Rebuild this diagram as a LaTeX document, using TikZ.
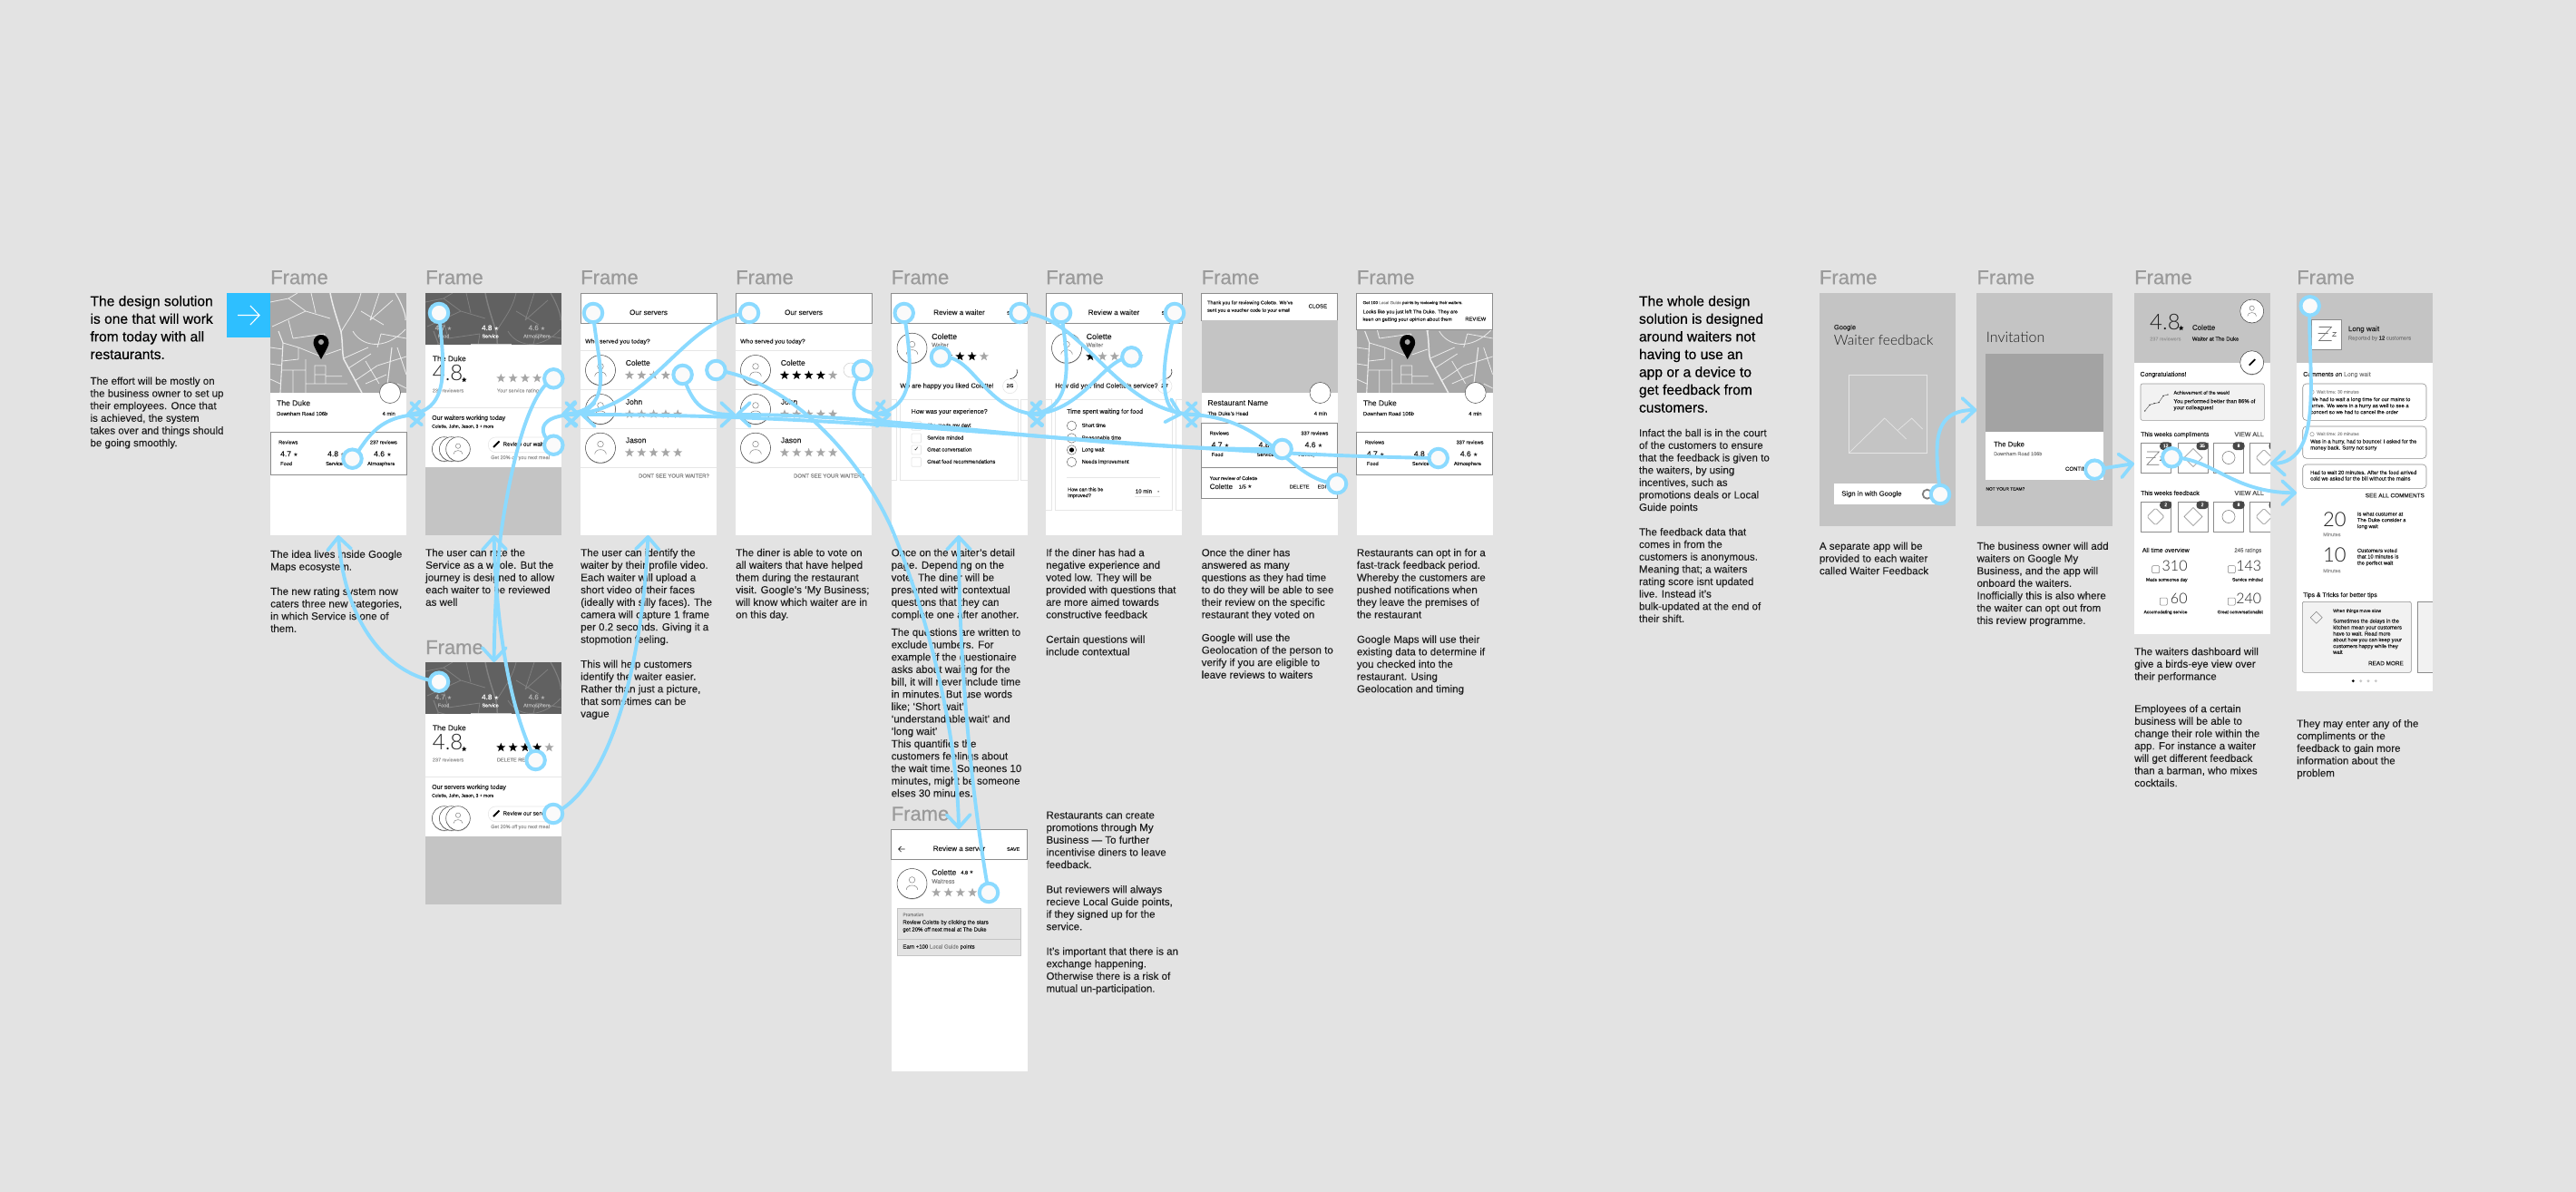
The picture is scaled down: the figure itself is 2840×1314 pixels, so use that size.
\documentclass[tikz,border=0pt]{standalone}
\usepackage{fontspec}
\setmainfont{Liberation Sans}[FakeBold=0.12]
\newfontfamily\djv{DejaVu Sans}
\newfontfamily\lite{Lato Light}
\newfontfamily\hvy[FakeBold=0.4]{Liberation Sans}
\usetikzlibrary{arrows.meta,shapes.geometric}
\definecolor{bgc}{HTML}{E3E3E3}
\definecolor{conn}{HTML}{8BDAFF}
\definecolor{boxb}{HTML}{2EBFFF}
\definecolor{ph}{HTML}{C4C4C4}
\definecolor{gt}{HTML}{9A9A9A}
\definecolor{strk}{HTML}{8C8C8C}
\definecolor{sep}{HTML}{E6E6E6}
\definecolor{ink}{HTML}{1E1E1E}
\pgfdeclarelayer{bg}\pgfdeclarelayer{top}\pgfsetlayers{bg,main,top}
\newcounter{nn}
\newcommand{\tbox}[6]{\stepcounter{nn}\node[inner sep=0,anchor=#5,text=#4,text height={#3*0.72pt},text depth={#3*0.2pt},font=\fontsize{#3}{#3}\selectfont] (n\thenn) at (#1,#2) {#6};}
\newcommand{\tw}[4]{\tbox{#1}{#2}{#3}{ink}{west}{#4}}
\newcommand{\te}[4]{\tbox{#1}{#2}{#3}{ink}{east}{#4}}
\newcommand{\tc}[4]{\tbox{#1}{#2}{#3}{ink}{center}{#4}}
\newcommand{\capt}[3]{\stepcounter{nn}\node[inner sep=0,anchor=north west,align=left,text=ink,font=\fontsize{11.55}{13.65}\selectfont] (n\thenn) at (#1,{#2-6.2}) {\rule{0pt}{9.2pt}#3};}
\newcommand{\head}[3]{\stepcounter{nn}\node[inner sep=0,anchor=north west,align=left,text=black,font=\hvy\fontsize{15.6}{19.55}\selectfont] (n\thenn) at (#1,{#2-8.4}) {\rule{0pt}{12.5pt}#3};}
\newcommand{\flabel}[2]{\tbox{#1}{#2}{22}{gt}{west}{\hvy Frame}}
\newcommand{\st}[4]{\stepcounter{nn}\node[star,star points=5,star point ratio=2.4,fill=#4,draw=none,inner sep=0,minimum size=#3pt] (n\thenn) at (#1,#2) {};}
\newcommand{\stars}[3]{\foreach \i in {0,...,4}{\pgfmathtruncatemacro\cc{\i<#3?1:0}\ifnum\cc=1 \st{#1+13.3*\i}{#2}{10.5}{black}\else \st{#1+13.3*\i}{#2}{10.5}{gray!70}\fi}}
\newcommand{\av}[3]{\fill[black!25] (#1,#2+1) circle[radius=#3];\draw[fill=white,draw=black!75,line width=.5pt] (#1,#2) circle[radius=#3];
 \draw[gray,line width=.5pt] (#1,{#2-0.25*#3}) circle[radius={0.2*#3}];
 \draw[gray,line width=.5pt] ({#1-0.38*#3},{#2+0.42*#3}) .. controls ({#1-0.38*#3},{#2+0.02*#3}) and ({#1+0.38*#3},{#2+0.02*#3}) .. ({#1+0.38*#3},{#2+0.42*#3});}
\newcommand{\pen}[2]{\draw[black,line width=1.8pt] (#1-3,#2+3) -- (#1+3.5,#2-3.5);}
\newcommand{\ph}[4]{\fill[ph] (#1,#2) rectangle (#3,#4);}
\newcommand{\roads}[1]{\draw[#1,line width=1.5pt] (66,0) .. controls (70,20) and (76,35) .. (78,43) .. controls (80,55) and (79,65) .. (81,73) -- (101,110);
 \draw[#1,line width=1.1pt] (9,42) -- (14,55) -- (11,110) (138,0) .. controls (145,12) and (150,25) .. (149,30) (134,60) -- (128,110);
 \draw[#1,line width=.8pt] (91,42) .. controls (100,58) and (125,65) .. (149,40) (81,72) -- (108,60) (86,83) -- (111,67) (93,97) -- (118,80) (14,55) -- (31,60) -- (31,73) -- (13,75) (31,60) -- (56,70) (49,80) -- (61,80) -- (61,100) -- (49,100) -- cycle (49,90) -- (61,90) (39,73) -- (39,110) (13,85) -- (39,85) (61,91.7) -- (79,91.7)
  (2,37) -- (39,20) -- (66,28) (0,10) -- (20,6) -- (39,20) (20,30) -- (25,50) (100,0) .. controls (95,20) and (85,30) .. (78,43) (110,30) -- (135,8) (118,80) -- (150,70) (140,60) -- (150,90) (0,95) -- (11,100)
  (0,60) -- (14,62) (0,78) -- (13,80) (25,50) -- (60,45) (60,45) -- (56,70) (61,68) -- (78,62) (39,100) -- (49,100) (61,100) -- (85,100) (105,75) -- (120,100) (118,60) -- (122,45) (122,45) -- (150,50) (100,20) -- (125,35) (45,0) -- (50,22) (20,6) -- (30,0) (120,0) -- (110,30) (140,100) -- (150,105) (25,85) -- (25,110) (105,100) -- (128,90);}
\newcommand{\revs}[5]{\draw[fill=white,draw=strk,line width=.7pt] (0,#1) rectangle (150,#2);
 \tw{9}{#1+12}{5.6}{Reviews}\te{140}{#1+12}{5.6}{#3}
 \tw{11}{#1+25}{8.5}{4.7 {\djv\fontsize{6}{6}\selectfont ★}}\tw{63}{#1+25}{8.5}{4.8 {\djv\fontsize{6}{6}\selectfont ★}}\tw{114}{#1+25}{8.5}{4.6 {\djv\fontsize{6}{6}\selectfont ★}}
 \tw{11}{#1+35.5}{5.6}{Food}\tw{61}{#1+35.5}{5.6}{Service}\tw{107}{#1+35.5}{5.6}{Atmosphere}}
\newcommand{\servers}[1]{\fill[white] (0,0) rectangle (150,267);\draw[draw=strk,line width=.7pt] (0,0) rectangle (150,33);
 \tc{75}{22}{8}{Our servers}\tw{5}{53.7}{6.8}{Who served you today?}
 \foreach \yy in {63.5,106,149,192}{\draw[sep,line width=1pt] (0,\yy) -- (150,\yy);}
 \av{22}{85}{16.5}\av{22}{128}{16.5}\av{22}{170.7}{16.5}
 \tw{49.6}{77.7}{8.5}{Colette}\tw{49.6}{120.7}{8.5}{John}\tw{49.6}{163}{8.5}{Jason}
 \stars{54}{90.7}{#1}\stars{54}{133.5}{0}\stars{54}{176}{0}
 \tbox{142}{202}{6}{gray}{east}{DONT SEE YOUR WAITER?}}
\newcommand{\srvsec}[5]{\tw{7.7}{73}{8.5}{The Duke}\tbox{7.7}{90.3}{24}{ink}{west}{\lite 4.8}\st{42.7}{95.7}{6}{black}\tbox{7.7}{108}{5.5}{gt}{west}{237 reviewers}
 \stars{83.3}{94}{#1}\tbox{78.7}{108}{5.6}{#2}{west}{#3}
 \draw[sep,line width=1.2pt] (0,126.5) -- (150,126.5);
 \tw{7}{138}{7}{#4}\tw{7}{147.3}{5}{Colette, John, Jason, 3 + more}
 \av{20.7}{172}{13.3}\av{28.7}{172}{13.3}\av{36}{172}{13.3}
 \draw[fill=white,draw=sep,line width=.6pt,rounded corners=8pt] (69.3,159) rectangle (148,175.7);\pen{78}{167}\tw{85.3}{167}{6.3}{#5}
 \tbox{72}{181.7}{5.5}{gt}{west}{Get 20\% off you next meal}
 \ph{0}{192.3}{150}{267}}
\newcommand{\reviewhead}[1]{\fill[white] (0,0) rectangle (150,267);\draw[draw=strk,line width=.7pt] (0,0) rectangle (150,33);
 \tc{75}{22}{8}{#1}\te{142}{22.5}{5.5}{SAVE}}
\newcommand{\tile}[5]{\draw[fill=white,draw=strk,line width=.6pt] (#1,#2) rectangle (#3,#4);#5}
\newcommand{\badge}[3]{\fill[black!72,rounded corners=3.5pt] (#1-6.5,#2-4.3) rectangle (#1+6.5,#2+4.3);\tbox{#1}{#2}{5}{white}{center}{#3}}
\newcommand{\dmd}[3]{\draw[gray,line width=.6pt] (#1-#3,#2) -- (#1,#2-#3) -- (#1+#3,#2) -- (#1,#2+#3) -- cycle;}
\newcommand{\rz}[3]{\begin{scope}[shift={(#1,#2)},scale=#3]\draw[gray!90!black,line width=.6pt] (0,0) -- (14,0) -- (0,15) -- (14,15) (-1,7) -- (10,7);\draw[gray!90!black,line width=.6pt] (15,6) -- (19,6) -- (15,10) -- (19,10);\end{scope}}
\tikzset{conn/.style={draw=conn,line width=3.9pt,line cap=round,-{Straight Barb[length=14pt,width=26pt,line width=3.7pt,round]}},
 hot/.style={circle,draw=conn,line width=4pt,fill=white!98!black,minimum size=20.5pt,inner sep=0}}
\begin{document}
\begin{tikzpicture}[x=1pt,y=-1pt]
\useasboundingbox (0,0) rectangle (2840,1314);
\begin{pgfonlayer}{bg}
\fill[bgc] (0,0) rectangle (2840,1314);
% left text
\head{99.3}{333}{The design solution\\is one that will work\\from today with all\\restaurants.}
\capt{99.3}{420.7}{The effort will be mostly on\\the business owner to set up\\their employees. Once that\\is achieved, the system\\takes over and things should\\be going smoothly.}
\fill[boxb] (250,323) rectangle (298,372);
\draw[white,line width=1.1pt] (262,347.5) -- (286,347.5) (276,337) -- (286,347.5) -- (276,358);
% frame labels
\foreach \xx in {298,469,640,811,982.5,1153,1324.5,1495.7,2005.7,2179.3,2353,2532}{\flabel{\xx}{307.5}}
\flabel{469}{715.3}\flabel{982.5}{898.8}
% F1
\begin{scope}[shift={(298,323)}]
\fill[white] (0,0) rectangle (150,267);
\fill[gray!68] (0,0) rectangle (150,110);
\begin{scope}\clip (0,0) rectangle (150,110);\roads{white!92!black}\end{scope}
\fill[black] (56,73) .. controls (50,62) and (47.5,58) .. (47.5,55) .. controls (47.5,43) and (64.5,43) .. (64.5,55) .. controls (64.5,58) and (62,62) .. (56,73);
\fill[gray!70] (56,54) circle[radius=3];
\draw[fill=white,draw=black!70,line width=.5pt] (132,110) circle[radius=11.5];
\tw{7}{122}{8.5}{The Duke}\tw{7}{133.5}{5.8}{Downham Road 106b}\te{138}{133.5}{5.8}{4 min}
\revs{153}{200}{237 reviews}{}{}
\end{scope}
\capt{298}{611.7}{The idea lives inside Google\\Maps ecosystem.\\~\\The new rating system now\\caters three new categories,\\in which Service is one of\\them.}
% F2
\begin{scope}[shift={(469,323)}]
\fill[white] (0,0) rectangle (150,267);
\fill[black!62] (0,0) rectangle (150,56.7);
\begin{scope}\clip (0,0) rectangle (150,56.7);\roads{black!50}\end{scope}
\tbox{20}{39}{8}{gray!60}{center}{4.7 {\djv\fontsize{6}{6}\selectfont ★}}\tbox{20}{48}{5.5}{gray!60}{center}{Food}
\tbox{71.6}{39}{8}{white}{center}{4.8 {\djv\fontsize{6}{6}\selectfont ★}}\tbox{71.6}{48}{5.5}{white}{center}{Service}
\tbox{123}{39}{8}{gray!60}{center}{4.6 {\djv\fontsize{6}{6}\selectfont ★}}\tbox{123}{48}{5.5}{gray!60}{center}{Atmosphere}
\fill[gray!40] (49.6,55.7) rectangle (94.6,56.7);
\srvsec{0}{gt}{Your service rating}{Our waiters working today}{Review our waiters}
\end{scope}
\capt{469}{610}{The user can rate the\\Service as a whole. But the\\journey is designed to allow\\each waiter to be reviewed\\as well}
% F2b
\begin{scope}[shift={(469,730)}]
\fill[white] (0,0) rectangle (150,267);
\fill[black!62] (0,0) rectangle (150,56.7);
\begin{scope}\clip (0,0) rectangle (150,56.7);\roads{black!50}\end{scope}
\tbox{20}{39}{8}{gray!60}{center}{4.7 {\djv\fontsize{6}{6}\selectfont ★}}\tbox{20}{48}{5.5}{gray!60}{center}{Food}
\tbox{71.6}{39}{8}{white}{center}{4.8 {\djv\fontsize{6}{6}\selectfont ★}}\tbox{71.6}{48}{5.5}{white}{center}{Service}
\tbox{123}{39}{8}{gray!60}{center}{4.6 {\djv\fontsize{6}{6}\selectfont ★}}\tbox{123}{48}{5.5}{gray!60}{center}{Atmosphere}
\fill[gray!40] (49.6,55.7) rectangle (94.6,56.7);
\srvsec{4}{gray}{DELETE REVIEW}{Our servers working today}{Review our servers}
\end{scope}
% F3
\begin{scope}[shift={(640,323)}]\servers{0}\end{scope}
\capt{640}{610}{The user can identify the\\waiter by their profile video.\\Each waiter will upload a\\short video of their faces\\(ideally with silly faces). The\\camera will capture 1 frame\\per 0.2 seconds. Giving it a\\stopmotion feeling.\\~\\This will help customers\\identify the waiter easier.\\Rather than just a picture,\\that sometimes can be\\vague}
% F4
\begin{scope}[shift={(811,323)}]\servers{4}\draw[gray!40,line width=.5pt] (127,85) circle[radius=8];\end{scope}
\capt{811}{610}{The diner is able to vote on\\all waiters that have helped\\them during the restaurant\\visit. Google’s ‘My Business;\\will know which waiter are in\\on this day.}
% F5
\begin{scope}[shift={(982.5,323)}]
\reviewhead{Review a waiter}
\av{23}{60.7}{16.5}\tw{44.5}{48.7}{8.8}{Colette}\tbox{44.5}{57.7}{6.5}{gray}{west}{Waiter}
\stars{49.2}{70}{4}
\tw{9.6}{102.7}{7.3}{We are happy you liked Colette!}
\draw[sep,line width=.6pt] (131,102.7) circle[radius=8];\draw[black!80,line width=.6pt] (131,94.7) arc[start angle=90,end angle=-20,radius=8];\tc{131}{102.7}{5.5}{2/5}
\draw[sep,line width=.7pt] (0,117) -- (6,117) -- (6,206) -- (0,206) (150,117) -- (143,117) -- (143,206) -- (150,206);
\draw[fill=white,draw=sep,line width=.8pt] (9.6,117) rectangle (139.6,206);
\tw{22}{131}{7}{How was your experience?}
\foreach \yy/\tt in {146.3/She made my day!,160/Service minded,173/Great conversation,186.3/Great food recommendations}{\draw[fill=white,draw=sep,line width=.7pt,rounded corners=1pt] (22.5,\yy-5) rectangle (33,\yy+5);\tw{39.5}{\yy}{5.8}{\tt}}
\tc{28}{173}{7}{{\djv ✓}}
\end{scope}
\capt{982.5}{610}{Once on the waiter’s detail\\page. Depending on the\\vote. The diner will be\\presented with contextual\\questions that they can\\complete one after another.}
\capt{982.5}{697.7}{The questions are written to\\exclude numbers. For\\example if the questionaire\\asks about waiting for the\\bill, it will never include time\\in minutes. But use words\\like; ‘Short wait’,\\‘understandable wait’ and\\‘long wait’\\This quantifies the\\customers feelings about\\the wait time. Someones 10\\minutes, might be someone\\elses 30 minutes.}
% F5b
\begin{scope}[shift={(982.5,914)}]
\reviewhead{Review a server}
\draw[ink,line width=.7pt] (8,22) -- (15,22) (11,19) -- (8,22) -- (11,25);
\av{23}{60}{16.5}\tw{44.7}{48.3}{8.5}{Colette}\tw{76.7}{48.3}{5.5}{4.8 {\djv ★}}\tbox{44.7}{58}{6.5}{gray}{west}{Waitress}
\stars{49.7}{70}{0}
\draw[fill=bgc,draw=ph,line width=.7pt] (7,87) rectangle (142.7,139.3);\draw[ph,line width=.7pt] (7,121) -- (142.7,121);
\tbox{12.7}{94.7}{5}{gray}{west}{Promotion}\tw{12.7}{103}{6}{Review Colette by clicking the stars}\tw{12.7}{111}{6}{get 20\% off next meal at The Duke}
\tw{12.7}{130}{6}{Earn +100 \textcolor{gray}{Local Guide} points}
\end{scope}
% F6
\begin{scope}[shift={(1153,323)}]
\reviewhead{Review a waiter}
\av{23}{60.7}{16.5}\tw{44.5}{48.7}{8.8}{Colette}\tbox{44.5}{57.7}{6.5}{gray}{west}{Waiter}
\stars{49.2}{70}{1}
\tw{10}{102.7}{7.3}{How did you find Colette’s service?}
\draw[sep,line width=.6pt] (131,102.7) circle[radius=8];\draw[black!80,line width=.6pt] (131,94.7) arc[start angle=90,end angle=-20,radius=8];\tc{131}{102.7}{5.5}{2/7}
\draw[sep,line width=.7pt] (0,117) -- (6,117) -- (6,239) -- (0,239) (150,117) -- (143,117) -- (143,239) -- (150,239);
\draw[fill=white,draw=sep,line width=.8pt] (10.5,117) rectangle (139.6,239);
\tw{23}{131}{7}{Time spent waiting for food}
\foreach \yy/\tt in {146.3/Short time,160/Reasonable time,173/Long wait,186.3/Needs improvement}{\draw[fill=white,draw=black!60,line width=.5pt] (28.5,\yy) circle[radius=5.2];\tw{39.5}{\yy}{5.8}{\tt}}
\fill[black] (28.5,173) circle[radius=2.6];
\draw[sep,line width=.8pt] (23,203) -- (126,203);
\tw{24}{217}{5.5}{How can this be}\tw{24}{223.7}{5.5}{improved?}\tw{98.7}{219}{6}{10 min}\tw{123}{219}{6}{-}
\draw[sep,line width=.8pt] (98,224.7) -- (126,224.7);
\end{scope}
\capt{1153}{610}{If the diner has had a\\negative experience and\\voted low. They will be\\provided with questions that\\are more aimed towards\\constructive feedback\\~\\Certain questions will\\include contextual}
\capt{1153.3}{899.3}{Restaurants can create\\promotions through My\\Business — To further\\incentivise diners to leave\\feedback.\\~\\But reviewers will always\\recieve Local Guide points,\\if they signed up for the\\service.\\~\\It’s important that there is an\\exchange happening.\\Otherwise there is a risk of\\mutual un-participation.}
% F7
\begin{scope}[shift={(1324.5,323)}]
\fill[white] (0,0) rectangle (150,267);\draw[draw=strk,line width=.7pt] (0,0) rectangle (150,30);
\tw{6.4}{11}{5.4}{Thank you for reviewing Colette. We’ve}\tw{6.4}{19.3}{5.4}{sent you a voucher code to your email}\te{138.7}{15}{6}{CLOSE}
\ph{0}{30}{150}{110}
\draw[fill=white,draw=black!70,line width=.5pt] (131,110) circle[radius=11.5];
\tw{6.8}{121.7}{8.5}{Restaurant Name}\tw{6.8}{133.3}{5.8}{The Duke’s Head}\te{138.7}{133.3}{5.8}{4 min}
\revs{143}{192.7}{337 reviews}{}{}
\draw[fill=white,draw=strk,line width=.7pt] (0,192.7) rectangle (150,226);
\tw{9}{204.7}{5.4}{Your review of Colette}\tw{9}{214}{8}{Colette}\tw{41}{214}{5.8}{1/5 {\djv ★}}\tw{97}{214}{5.6}{DELETE}\tw{128}{214}{5.6}{EDIT}
\end{scope}
\capt{1324.5}{610}{Once the diner has\\answered as many\\questions as they had time\\to do they will be able to see\\their review on the specific\\restaurant they voted on}
\capt{1324.5}{703.7}{Google will use the\\Geolocation of the person to\\verify if you are eligible to\\leave reviews to waiters}
% F8
\begin{scope}[shift={(1495.7,323)}]
\fill[white] (0,0) rectangle (150,267);
\fill[gray!68] (0,40) rectangle (150,110);
\begin{scope}\clip (0,40) rectangle (150,110);\roads{white!92!black}\end{scope}
\fill[black] (56,73) .. controls (50,62) and (47.5,58) .. (47.5,55) .. controls (47.5,43) and (64.5,43) .. (64.5,55) .. controls (64.5,58) and (62,62) .. (56,73);
\fill[gray!70] (56,54) circle[radius=3];
\draw[fill=white,draw=strk,line width=.7pt] (0,0) rectangle (150,40);
\tw{6.7}{11}{4.6}{Get 100 \textcolor{gray}{Local Guide} points by reviewing their waiters.}\tw{6.7}{21}{5.5}{Looks like you just left The Duke. They are}\tw{6.7}{29.3}{5.5}{keen on getting your opinion about them}\te{142.7}{29}{5.8}{REVIEW}
\draw[fill=white,draw=black!70,line width=.5pt] (131,110) circle[radius=11.5];
\tw{7}{122}{8.5}{The Duke}\tw{7}{133.5}{5.8}{Downham Road 106b}\te{138}{133.5}{5.8}{4 min}
\revs{153}{200}{337 reviews}{}{}
\end{scope}
\capt{1495.7}{610}{Restaurants can opt in for a\\fast-track feedback period.\\Whereby the customers are\\pushed notifications when\\they leave the premises of\\the restaurant\\~\\Google Maps will use their\\existing data to determine if\\you checked into the\\restaurant. Using\\Geolocation and timing}
% right text
\head{1806.8}{333}{The whole design\\solution is designed\\around waiters not\\having to use an\\app or a device to\\get feedback from\\customers.}
\capt{1806.8}{478}{Infact the ball is in the court\\of the customers to ensure\\that the feedback is given to\\the waiters, by using\\incentives, such as\\promotions deals or Local\\Guide points\\~\\The feedback data that\\comes in from the\\customers is anonymous.\\Meaning that; a waiters\\rating score isnt updated\\live. Instead it’s\\bulk-updated at the end of\\their shift.}
% R1
\begin{scope}[shift={(2005.7,323)}]
\ph{0}{0}{150}{257}
\tw{16}{38.3}{7.5}{Google}\tbox{16}{53.3}{15.5}{ink}{west}{\lite Waiter feedback}
\draw[white!90!black,line width=.8pt] (33,90) rectangle (119,176);
\draw[white!90!black,line width=.7pt] (33,176) -- (72,138) -- (96,161) (87,151) -- (102,138) -- (114,150);
\fill[white] (16.4,210) rectangle (133,233);
\tw{24.3}{221.7}{7.7}{Sign in with Google}
\draw[gray,line width=1.8pt] (119,221.7) circle[radius=5];
\end{scope}
\capt{2005.7}{602.7}{A separate app will be\\provided to each waiter\\called Waiter Feedback}
% R2
\begin{scope}[shift={(2179.3,323)}]
\ph{0}{0}{150}{257}
\tbox{10.4}{50}{16}{ink}{west}{\lite Invitation}
\fill[gray!72] (10,66.7) rectangle (139.6,152.7);
\fill[white] (10,152.7) rectangle (139.6,206.3);
\tw{18.6}{167.3}{7.8}{The Duke}\tbox{18.6}{177.7}{5.5}{gray}{west}{Downham Road 106b}\tw{97.5}{194.3}{6}{CONTINUE}
\tw{10}{216.3}{4.8}{NOT YOUR TEAM?}
\end{scope}
\capt{2179.3}{602.7}{The business owner will add\\waiters on Google My\\Business, and the app will\\onboard the waiters.\\Inofficially this is also where\\the waiter can opt out from\\this review programme.}
% R3
\begin{scope}[shift={(2353,323)}]
\fill[white] (0,0) rectangle (150,376);
\ph{0}{0}{150}{76.7}
\tbox{17}{34}{24}{ink}{west}{\lite 4.8}\st{51.7}{38.7}{6}{black}\tbox{17}{51}{5.5}{gt}{west}{237 reviewers}
\tw{63.7}{38.7}{8}{Colette}\tw{63.7}{51}{6}{Waiter at The Duke}
\av{129.7}{20}{13}
\fill[black!25] (129.7,77.7) circle[radius=13];\draw[fill=white,draw=black!75,line width=.5pt] (129.7,76.7) circle[radius=13];\pen{129.7}{76.7}
\tw{6.3}{90}{7}{Congratulations!}
\draw[fill=black!5,draw=gray!80,line width=.6pt,rounded corners=2pt] (7,100) rectangle (143.3,140.3);
\draw[black!60,line width=.5pt] (11.7,130) -- (17,123.3) -- (22,121.7) -- (27,120.7) -- (32,113.3) -- (37,112);
\foreach \px/\py in {11.7/130,17/123.3,22/121.7,27/120.7,32/113.3,37/112}{\fill[black] (\px,\py) circle[radius=.7];}
\tw{43.3}{110.3}{5.4}{Achievement of the week!}\tw{43.3}{119.7}{6}{You performed better than 86\% of}\tw{43.3}{126.7}{6}{your colleagues!}
\tw{7}{156.3}{6.9}{This weeks compliments}\tbox{143}{156.3}{7}{black!70}{east}{VIEW ALL}
\tile{7}{165.3}{40}{198}{\rz{14}{175}{.95}}\tile{48.3}{165.3}{81.3}{198}{\dmd{65}{181.5}{10}}\tile{87.3}{165.3}{120.7}{198}{\draw[gray,line width=.6pt] (104,181.5) circle[radius=7];}
\begin{scope}\clip (0,0) rectangle (150,376);\tile{127.3}{165.3}{170}{198}{\draw[gray,line width=.6pt,rounded corners=1.5pt] (134,181.5) -- (143,172.5) -- (152,181.5) -- (143,190.5) -- cycle;}\badge{155}{168.7}{}\end{scope}
\badge{34.7}{168.7}{12}\badge{75}{168.7}{35}\badge{115}{168.7}{8}
\tw{7}{221}{6.9}{This weeks feedback}\tbox{143}{221}{7}{black!70}{east}{VIEW ALL}
\tile{7}{230}{40}{263}{\draw[gray,line width=.6pt,rounded corners=1.5pt] (14,246.5) -- (23.5,237) -- (33,246.5) -- (23.5,256) -- cycle;}\tile{48.3}{230}{81.3}{263}{\dmd{65}{246.5}{10}}\tile{87.3}{230}{120.7}{263}{\draw[gray,line width=.6pt] (104,246.5) circle[radius=7];}
\begin{scope}\clip (0,0) rectangle (150,376);\tile{127.3}{230}{170}{263}{\draw[gray,line width=.6pt,rounded corners=1.5pt] (134,246.5) -- (143,237.5) -- (152,246.5) -- (143,255.5) -- cycle;}\badge{155}{233.7}{}\end{scope}
\badge{34.7}{233.7}{2}\badge{75}{233.7}{2}\badge{115}{233.7}{8}
\tw{8.7}{284}{6.9}{All time overview}\tbox{140.3}{284}{6}{black!60}{east}{245 ratings}
\foreach \bx/\by in {23.7/304.7,107.3/304.7,32.3/340,107.3/340}{\draw[gray,line width=.5pt,rounded corners=1pt] (\bx-4,\by-4) rectangle (\bx+4,\by+4);}
\tbox{58.7}{302.7}{16}{ink}{east}{\lite 310}\tbox{140.3}{302.7}{16}{ink}{east}{\lite 143}\tbox{58.7}{338.3}{16}{ink}{east}{\lite 60}\tbox{140.3}{338.3}{16}{ink}{east}{\lite 240}
\te{58.7}{316.3}{4.9}{Made someones day}\te{142}{316.3}{4.9}{Service minded}\te{58.7}{352}{4.9}{Accomodating service}\te{142}{352}{4.9}{Great conversationalist}
\end{scope}
\capt{2353}{719}{The waiters dashboard will\\give a birds-eye view over\\their performance}
\capt{2353}{782}{Employees of a certain\\business will be able to\\change their role within the\\app. For instance a waiter\\will get different feedback\\than a barman, who mixes\\cocktails.}
% R4
\begin{scope}[shift={(2532,323)}]
\fill[white] (0,0) rectangle (150,439);
\ph{0}{0}{150}{76.7}
\draw[fill=white,draw=strk,line width=.7pt] (16.3,29) rectangle (49.7,62.3);\rz{24.5}{37.5}{1}
\tw{56.7}{40}{8}{Long wait}\tbox{56.7}{50}{5.9}{gray}{west}{Reported by \textcolor{ink}{12} customers}
\tw{7}{90}{6.9}{Comments on \textcolor{gray}{Long wait}}
\foreach \ya/\yb in {100/140.3,147/182.3,189/215.3}{\draw[fill=white,draw=strk,line width=.6pt,rounded corners=4pt] (6.7,\ya) rectangle (143,\yb);}
\foreach \cy/\ct in {109.3/30,155.7/20}{\draw[gray,line width=.4pt] (17,\cy) circle[radius=2.2];\tbox{22}{\cy}{4.8}{gray!80}{west}{Wait time: \ct\ minutes}}
\tw{15}{117.7}{5.8}{We had to wait a long time for our mains to}\tw{15}{124.7}{5.8}{arrive. We were in a hurry as well to see a}\tw{15}{131.7}{5.8}{concert so we had to cancel the order}
\tw{15}{164}{5.8}{Was in a hurry, had to bounce! I asked for the}\tw{15}{171}{5.8}{money back. Sorry not sorry}
\tw{15}{198.3}{5.8}{Had to wait 20 minutes. After the food arrived}\tw{15}{205}{5.8}{cold we asked for the bill without the mains}
\te{141}{223.7}{6.4}{SEE ALL COMMENTS}
\tbox{29}{251.3}{22}{ink}{west}{\lite 20}\tbox{29}{266.7}{5.5}{gt}{west}{Minutes}
\tw{66.7}{244}{5.8}{Is what customer at}\tw{66.7}{250.7}{5.8}{The Duke consider a}\tw{66.7}{257.7}{5.8}{long wait}
\tbox{29}{291}{22}{ink}{west}{\lite 10}\tbox{29}{306.7}{5.5}{gt}{west}{Minutes}
\tw{66.7}{284.3}{5.8}{Customers voted}\tw{66.7}{291}{5.8}{that 10 minutes is}\tw{66.7}{298}{5.8}{the perfect wait}
\tw{7}{333.3}{6.9}{Tips \& Tricks for better tips}
\draw[fill=black!5,draw=strk,line width=.6pt,rounded corners=2pt] (6.3,340.3) rectangle (126.3,418.3);
\draw[fill=black!5,draw=strk,line width=.6pt] (150,340.3) -- (133.3,340.3) -- (133.3,418.3) -- (150,418.3);
\dmd{21.7}{357.7}{6.5}
\tw{40}{350.7}{5}{When things move slow}
\tw{40}{362}{5.8}{Sometimes the delays in the}\tw{40}{369}{5.8}{kitchen mean your customers}\tw{40}{376}{5.8}{have to wait. Read more}\tw{40}{382.7}{5.8}{about how you can keep your}\tw{40}{389.7}{5.8}{customers happy while they}\tw{40}{396.3}{5.8}{wait}
\te{118}{408.7}{6.4}{READ MORE}
\fill[black] (62.3,427.7) circle[radius=1.6];\fill[gray!45] (70.7,427.7) circle[radius=1.6] (79,427.7) circle[radius=1.6] (87.3,427.7) circle[radius=1.6];
\end{scope}
\capt{2532}{798.3}{They may enter any of the\\compliments or the\\feedback to gain more\\information about the\\problem}
\end{pgfonlayer}
% hotspots
\begin{pgfonlayer}{top}
\foreach \nm/\px/\py in {h1/388.5/505.7,h2a/484/345,h2b/610.3/417.3,h2c/610.3/490.7,h3a/654/345,h3b/752.6/413,h3c/789.4/408,h4a/826/345,h4b/950.8/408,h5a/996.7/345,h5b/1124.4/345,h5c/1037/393.3,h6a/1170/345,h6b/1247.4/393.3,h6c/1295/345,h7a/1413.6/495,h7c/1474/533.3,h8/1585.7/505,h2d/484/751.7,h2e/590.6/838,h2f/610/897,h5d/1090/984,hr1/2139/545,hr2/2309.3/517.7,hr3/2394.3/504.3,hr4/2546.7/337.3}{\node[hot] (\nm) at (\px,\py) {};}
\end{pgfonlayer}
% targets
\coordinate (f1R) at (448,457);\coordinate (f2L) at (469,457);\coordinate (f2R) at (619,457);\coordinate (f3L) at (640,457);
\coordinate (f4L) at (811,457);\coordinate (f4R) at (961,457);\coordinate (f5L) at (982.5,457);\coordinate (f5R) at (1132.5,457);
\coordinate (f6L) at (1153,457);\coordinate (f6R) at (1303,457);\coordinate (f7L) at (1324.5,457);
\coordinate (f1B) at (373,590);\coordinate (f2B) at (544.6,590);\coordinate (f3B) at (714.5,590);\coordinate (f5B) at (1057,590);
\coordinate (f2bT) at (544.6,730);\coordinate (f5bT) at (1057,914);
\coordinate (r2L) at (2179.3,452);\coordinate (r3L) at (2353,511);\coordinate (r3R) at (2503,511);\coordinate (r4L) at (2532,543.3);
% connectors
\draw[conn] (h1.center) .. controls (403,490) and (412,457) .. (f2L);
\draw[conn] (h2a.center) .. controls (489,400) and (498,452) .. (f1R);
\draw[conn] (h2b.center) .. controls (585,430) and (565,500) .. (552,590) .. controls (547,640) and (545,690) .. (f2bT);
\draw[conn] (h2c.center) .. controls (592,478) and (592,457) .. (f3L);
\draw[conn] (h3a.center) .. controls (658,400) and (682,452) .. (f2R);
\draw[conn] (h4a.center) .. controls (750,350) and (720,457) .. (f2R);
\draw[conn] (h3b.center) .. controls (764,447) and (775,457) .. (f4L);
\draw[conn] (h3c.center) .. controls (870,420) and (945,500) .. (982,580) .. controls (1020,670) and (1055,800) .. (f5bT);
\draw[conn] (h4b.center) .. controls (930,440) and (945,457) .. (f5L);
\draw[conn] (h5a.center) .. controls (1005,400) and (1012,450) .. (f4R);
\draw[conn] (h5c.center) .. controls (1075,390) and (1085,457) .. (f6L);
\draw[conn] (h6a.center) .. controls (1178,400) and (1185,452) .. (f5R);
\draw[conn] (h6b.center) .. controls (1215,395) and (1195,455) .. (f5R);
\draw[conn] (h5b.center) .. controls (1195,345) and (1230,457) .. (f7L);
\draw[conn] (h6c.center) .. controls (1280,400) and (1278,450) .. (f6R);
\draw[conn] (h7c.center) .. controls (1420,530) and (1400,457) .. (f6R);
\draw[conn] (h7a.center) .. controls (1200,497) and (1000,457) .. (f4L);
\draw[conn] (h8.center) .. controls (1250,500) and (1000,457) .. (f3L);
\draw[conn] (h5d.center) .. controls (1075,900) and (1057,750) .. (f5B);
\draw[conn] (h2d.center) .. controls (430,745) and (380,690) .. (f1B);
\draw[conn] (h2e.center) .. controls (565,790) and (547,700) .. (f2B);
\draw[conn] (h2f.center) .. controls (670,870) and (708,740) .. (f3B);
\draw[conn] (hr1.center) .. controls (2135,500) and (2125,452) .. (r2L);
\draw[conn] (hr2.center) -- (r3L);
\draw[conn] (hr3.center) .. controls (2440,505) and (2460,543) .. (r4L);
\draw[conn] (hr4.center) .. controls (2543,400) and (2565,510) .. (r3R);
\end{tikzpicture}
\end{document}
